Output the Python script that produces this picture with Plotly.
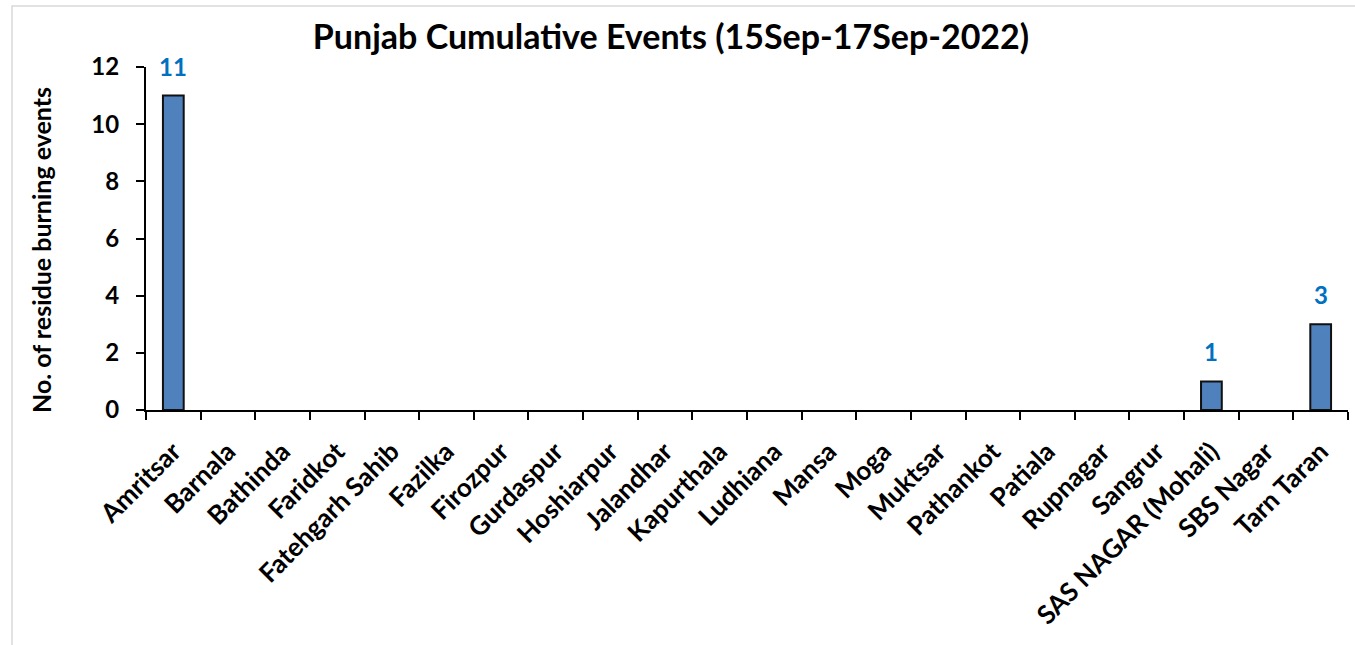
import plotly.graph_objects as go

districts = ["Amritsar", "Barnala", "Bathinda", "Faridkot", "Fatehgarh Sahib", "Fazilka",
             "Firozpur", "Gurdaspur", "Hoshiarpur", "Jalandhar", "Kapurthala", "Ludhiana",
             "Mansa", "Moga", "Muktsar", "Pathankot", "Patiala", "Rupnagar", "Sangrur",
             "SAS NAGAR (Mohali)", "SBS Nagar", "Tarn Taran"]
events = [11, 0, 0, 0, 0, 0, 0, 0, 0, 0, 0, 0, 0, 0, 0, 0, 0, 0, 0, 1, 0, 3]

FONT = "Lato, 'Open Sans', sans-serif"

W, H = 1355, 645
L, R, T, B = 146, 7, 67, 235
pw = W - L - R
ph = H - T - B

fig = go.Figure(go.Bar(
    x=districts, y=events, width=0.38,
    marker=dict(color="#4F81BD",
                line=dict(color="#111111", width=[2 if v > 0 else 0 for v in events])),
    hoverinfo="x+y",
))

for d, v in zip(districts, events):
    if v > 0:
        fig.add_annotation(x=d, y=v, text=f"<b>{v}</b>", showarrow=False,
                           yanchor="bottom", yshift=13,
                           font=dict(family=FONT, size=24, color="#0070C0"))

# y-axis title
fig.add_annotation(xref="paper", yref="paper", x=(41 - L) / pw, y=(410 - 250) / ph,
                   text="<b>No. of residue burning events</b>", textangle=-90, showarrow=False,
                   xanchor="center", yanchor="middle",
                   font=dict(family=FONT, size=25, color="black"))

fig.add_shape(type="rect", xref="paper", yref="paper",
              x0=(12 - L) / pw, x1=(W + 5 - L) / pw,
              y0=-(H + 5 - T - ph) / ph, y1=1 + (T - 6) / ph,
              line=dict(color="#D9D9D9", width=1.5), fillcolor="rgba(0,0,0,0)", layer="below")

fig.update_layout(
    width=W, height=H,
    margin=dict(l=L, r=R, t=T, b=B, autoexpand=False),
    paper_bgcolor="white", plot_bgcolor="white",
    showlegend=False,
    title=dict(text="<b>Punjab Cumulative Events (15Sep-17Sep-2022)</b>", xref="container",
               x=671 / W, xanchor="center",
               y=1 - 37 / H, yanchor="middle", font=dict(family=FONT, size=34, color="black")),
    font=dict(family=FONT, color="black"),
)
fig.update_xaxes(
    type="category", tickangle=-45, tickson="boundaries", ticks="outside", ticklen=8,
    tickwidth=2, tickcolor="black", showline=True, linecolor="black", linewidth=2,
    showgrid=False, automargin=False, ticklabelstandoff=14,
    tickfont=dict(family=FONT, size=26, color="black", weight="bold"),
)
fig.update_yaxes(
    range=[0, 12], dtick=2, ticks="outside", ticklen=8, tickwidth=2, tickcolor="black",
    showline=True, linecolor="black", linewidth=2, showgrid=False, zeroline=False,
    automargin=False, ticklabelstandoff=12,
    tickfont=dict(family=FONT, size=24, color="black", weight="bold"),
)

fig.write_html("out.html", config={"displayModeBar": False},
               post_script="document.body.style.margin='0px';")
